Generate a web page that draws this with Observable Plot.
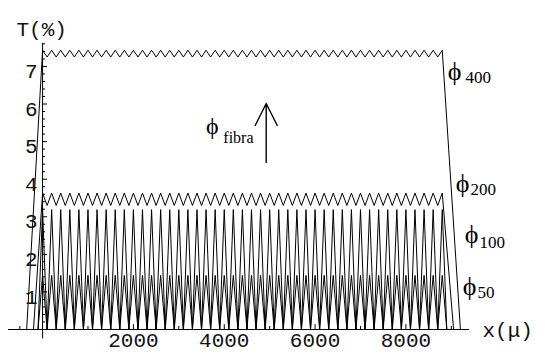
<!DOCTYPE html>
<html><head><meta charset="utf-8">
<script src="https://cdn.jsdelivr.net/npm/d3@7"></script>
<script src="https://cdn.jsdelivr.net/npm/@observablehq/plot@0.6"></script>
<style>body{margin:0;background:#fff}</style>
</head><body><div id="chart"></div>
<script>
// vertex positions (μ) of the periodic pattern
const xGrid = [
  0,100,200,300,400,500,600,700,800,900,
  1000,1100,1200,1300,1400,1500,1600,1700,1800,1900,
  2000,2100,2200,2300,2400,2500,2600,2700,2800,2900,
  3000,3100,3200,3300,3400,3500,3600,3700,3800,3900,
  4000,4100,4200,4300,4400,4500,4600,4700,4800,4900,
  5000,5100,5200,5300,5400,5500,5600,5700,5800,5900,
  6000,6100,6200,6300,6400,6500,6600,6700,6800,6900,
  7000,7100,7200,7300,7400,7500,7600,7700,7800,7900,
  8000,8100,8200,8300,8400,8500,8600,8700,8800
];
// T(%) at each vertex
const phi400 = [
  7.43,7.25,7.43,7.25,7.43,7.25,7.43,7.25,7.43,7.25,
  7.43,7.25,7.43,7.25,7.43,7.25,7.43,7.25,7.43,7.25,
  7.43,7.25,7.43,7.25,7.43,7.25,7.43,7.25,7.43,7.25,
  7.43,7.25,7.43,7.25,7.43,7.25,7.43,7.25,7.43,7.25,
  7.43,7.25,7.43,7.25,7.43,7.25,7.43,7.25,7.43,7.25,
  7.43,7.25,7.43,7.25,7.43,7.25,7.43,7.25,7.43,7.25,
  7.43,7.25,7.43,7.25,7.43,7.25,7.43,7.25,7.43,7.25,
  7.43,7.25,7.43,7.25,7.43,7.25,7.43,7.25,7.43,7.25,
  7.43,7.25,7.43,7.25,7.43,7.25,7.43,7.25,7.43
];
const phi200 = [
  3.63,3.30,3.63,3.30,3.63,3.30,3.63,3.30,3.63,3.30,
  3.63,3.30,3.63,3.30,3.63,3.30,3.63,3.30,3.63,3.30,
  3.63,3.30,3.63,3.30,3.63,3.30,3.63,3.30,3.63,3.30,
  3.63,3.30,3.63,3.30,3.63,3.30,3.63,3.30,3.63,3.30,
  3.63,3.30,3.63,3.30,3.63,3.30,3.63,3.30,3.63,3.30,
  3.63,3.30,3.63,3.30,3.63,3.30,3.63,3.30,3.63,3.30,
  3.63,3.30,3.63,3.30,3.63,3.30,3.63,3.30,3.63,3.30,
  3.63,3.30,3.63,3.30,3.63,3.30,3.63,3.30,3.63,3.30,
  3.63,3.30,3.63,3.30,3.63,3.30,3.63,3.30,3.63
];
const phi100 = [
  3.19,0,3.19,0,3.19,0,3.19,0,3.19,0,
  3.19,0,3.19,0,3.19,0,3.19,0,3.19,0,
  3.19,0,3.19,0,3.19,0,3.19,0,3.19,0,
  3.19,0,3.19,0,3.19,0,3.19,0,3.19,0,
  3.19,0,3.19,0,3.19,0,3.19,0,3.19,0,
  3.19,0,3.19,0,3.19,0,3.19,0,3.19,0,
  3.19,0,3.19,0,3.19,0,3.19,0,3.19,0,
  3.19,0,3.19,0,3.19,0,3.19,0,3.19,0,
  3.19,0,3.19,0,3.19,0,3.19,0,3.19
];
const phi50 = [
  1.44,0,1.44,0,1.44,0,1.44,0,1.44,0,
  1.44,0,1.44,0,1.44,0,1.44,0,1.44,0,
  1.44,0,1.44,0,1.44,0,1.44,0,1.44,0,
  1.44,0,1.44,0,1.44,0,1.44,0,1.44,0,
  1.44,0,1.44,0,1.44,0,1.44,0,1.44,0,
  1.44,0,1.44,0,1.44,0,1.44,0,1.44,0,
  1.44,0,1.44,0,1.44,0,1.44,0,1.44,0,
  1.44,0,1.44,0,1.44,0,1.44,0,1.44,0,
  1.44,0,1.44,0,1.44,0,1.44,0,1.44
];
const seriesNames = ["400","200","100","50"];
const leftFoot = [-350,-200,-100,-100];   // where each curve leaves 0 on the left
const rightFoot = [9200,9050,8900,8900];  // where each curve returns to 0 on the right
const baseFrom = -500, baseTo = 9200;

const xTicks = [2000,4000,6000,8000];
const xMinor = [-500,500,1000,1500,2500,3000,3500,4500,5000,5500,6500,7000,7500,8500,9000];
const yTicks = [1,2,3,4,5,6,7];
const yMinor = [0.2,0.4,0.6,0.8,1.2,1.4,1.6,1.8,2.2,2.4,2.6,2.8,3.2,3.4,3.6,3.8,
  4.2,4.4,4.6,4.8,5.2,5.4,5.6,5.8,6.2,6.4,6.6,6.8,7.2,7.4,7.6];

// annotation anchors
const curveLabels = [
  {sub: "400", x: 8920, y: 6.63, xs: 9310, ys: 6.55},
  {sub: "200", x: 9096, y: 3.67, xs: 9420, ys: 3.57},
  {sub: "100", x: 9294, y: 2.29, xs: 9618, ys: 2.18},
  {sub: "50",  x: 9250, y: 0.93, xs: 9576, ys: 0.83}
];
const fibraLabel = [{x: 3600, y: 5.2, xs: 3980, ys: 4.95}];
const arrowAnchor = [{x: 4924, y: 4.445}];

const values = [phi400, phi200, phi100, phi50];
const rows = [];
seriesNames.forEach((name, i) => {
  rows.push({s: name, x: baseFrom, y: 0});
  rows.push({s: name, x: leftFoot[i], y: 0});
  xGrid.forEach((x, j) => rows.push({s: name, x, y: values[i][j]}));
  rows.push({s: name, x: rightFoot[i], y: 0});
  rows.push({s: name, x: baseTo, y: 0});
});

const mono = "Liberation Mono";
const serif = "Liberation Serif";
const PHI = "\u03D5";

const arrowShape = {
  draw(context, l) {
    context.moveTo(0, 0);
    context.lineTo(0, -l);
    context.moveTo(-11, 22 - l);
    context.lineTo(0, -l);
    context.lineTo(11, 22 - l);
  }
};

const chart = Plot.plot({
  width: 545, height: 354,
  marginLeft: 8, marginRight: 76, marginTop: 43, marginBottom: 15.6,
  x: {domain: [-750, 9400], axis: null},
  y: {domain: [-0.25, 7.61], axis: null},
  style: {background: "white", color: "black"},
  marks: [
    Plot.ruleY([0], {x1: -750, x2: 9400, stroke: "black", strokeWidth: 1}),
    Plot.ruleX([0], {y1: -0.25, y2: 7.61, stroke: "black", strokeWidth: 1}),
    Plot.ruleX(xTicks, {x: d => d, y1: 0, y2: 0.13, stroke: "black"}),
    Plot.ruleX(xMinor, {x: d => d, y1: 0, y2: 0.08, stroke: "black"}),
    Plot.ruleY(yTicks, {y: d => d, x1: 0, x2: 110, stroke: "black"}),
    Plot.ruleY(yMinor, {y: d => d, x1: 0, x2: 66, stroke: "black"}),
    Plot.line(rows, {x: "x", y: "y", z: "s", stroke: "black", strokeWidth: 1, strokeLinejoin: "miter"}),
    Plot.text(xTicks, {x: d => d, y: 0, dy: 11, text: d => String(d), fontFamily: mono, fontSize: 21, fill: "#111"}),
    Plot.text(yTicks, {x: 0, y: d => d, dx: -5, dy: 5, textAnchor: "end", text: d => String(d), fontFamily: mono, fontSize: 21, fill: "#111"}),
    Plot.text(["T(%)"], {frameAnchor: "top-left", dx: 8, dy: -22, textAnchor: "start", text: d => d, fontFamily: mono, fontSize: 21, fill: "#111"}),
    Plot.text(["x(μ)"], {x: 9400, y: 0, dx: 13, dy: 1, textAnchor: "start", text: d => d, fontFamily: mono, fontSize: 21, fill: "#111"}),
    Plot.text(curveLabels, {x: "x", y: "y", text: d => PHI, textAnchor: "start", lineAnchor: "bottom", fontFamily: serif, fontSize: 26, fill: "black"}),
    Plot.text(curveLabels, {x: "xs", y: "ys", text: "sub", textAnchor: "start", lineAnchor: "bottom", fontFamily: serif, fontSize: 17, fill: "black"}),
    Plot.text(fibraLabel, {x: "x", y: "y", text: d => PHI, textAnchor: "start", lineAnchor: "bottom", fontFamily: serif, fontSize: 24, fill: "black"}),
    Plot.text(fibraLabel, {x: "xs", y: "ys", text: d => "fibra", textAnchor: "start", lineAnchor: "bottom", fontFamily: serif, fontSize: 16, fill: "black"}),
    Plot.vector(arrowAnchor, {x: "x", y: "y", length: 59, rotate: 0, anchor: "start", shape: arrowShape, stroke: "black", strokeWidth: 1.4})
  ]
});
document.getElementById("chart").appendChild(chart);
</script>
</body></html>
